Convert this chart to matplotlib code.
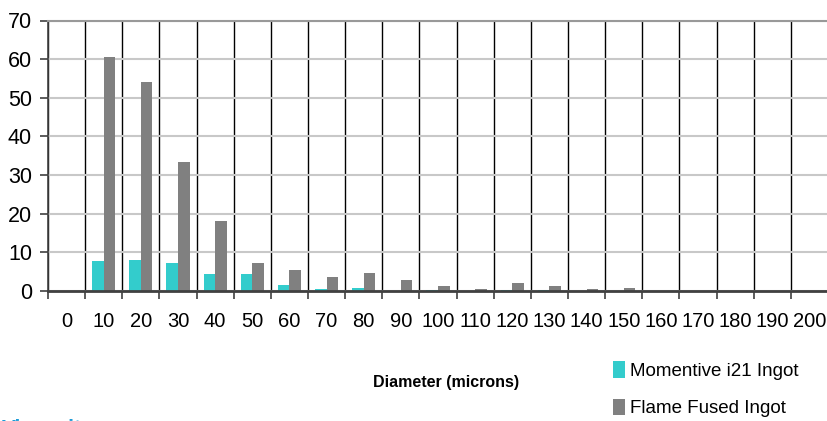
import matplotlib
matplotlib.use("Agg")
import matplotlib.pyplot as plt
import numpy as np

FONT = ["Liberation Sans", "DejaVu Sans"]
plt.rcParams["font.family"] = FONT

# Diameter bins (microns)
diameters = [0, 10, 20, 30, 40, 50, 60, 70, 80, 90, 100,
             110, 120, 130, 140, 150, 160, 170, 180, 190, 200]
# percent counts per bin
momentive = [0, 7.8, 8.0, 7.2, 4.4, 4.4, 1.5, 0.5, 0.8, 0, 0.3,
             0, 0.3, 0.3, 0, 0, 0, 0, 0, 0, 0]
flame_fused = [0, 60.6, 54.1, 33.4, 18.1, 7.2, 5.4, 3.6, 4.6, 2.8, 1.3,
               0.5, 2.1, 1.3, 0.5, 0.8, 0, 0, 0, 0, 0]

TEAL = "#33CCCC"
GREY = "#808080"

fig = plt.figure(figsize=(8.28, 4.21), dpi=100)
ax = fig.add_axes([48 / 828, 1 - 291 / 421, 780 / 828, 270.5 / 421])

x = np.arange(len(diameters))
w = 0.31
ax.bar(x - w / 2, momentive, w, color=TEAL, label="Momentive i21 Ingot", zorder=3)
ax.bar(x + w / 2, flame_fused, w, color=GREY, label="Flame Fused Ingot", zorder=3)

ax.set_xlim(-0.5, len(diameters) - 0.5)
ax.set_ylim(0, 70)
ax.set_yticks(range(0, 71, 10))
ax.set_xticks(x)
ax.set_xticklabels([str(d) for d in diameters])
ax.set_xticks(np.arange(len(diameters) + 1) - 0.5, minor=True)

ax.tick_params(axis="x", which="major", length=0, pad=15, labelsize=14.5)
ax.tick_params(axis="x", which="minor", length=5.5, width=1.2, color="#404040")
ax.tick_params(axis="y", length=5.5, width=1.2, color="#404040", pad=6, labelsize=15.5)

# gridlines: light horizontal, black vertical at bin edges
ax.grid(axis="y", which="major", color="#c8c8c8", linewidth=1.5, zorder=1)
ax.grid(axis="x", which="minor", color="black", linewidth=1.0, zorder=2)
ax.set_axisbelow(True)

ax.spines["right"].set_visible(False)
ax.spines["top"].set_color("#999999")
ax.spines["top"].set_linewidth(1.5)
ax.spines["left"].set_color("#404040")
ax.spines["left"].set_linewidth(1.2)
ax.spines["bottom"].set_color("#404040")
ax.spines["bottom"].set_linewidth(2.0)
ax.spines["bottom"].set_zorder(5)

fig.text(446 / 828, 1 - 382 / 421, "Diameter (microns)", ha="center", va="center",
         fontsize=11.5, fontweight="bold")

fig.legend(loc="upper left", bbox_to_anchor=(613 / 828, 1 - 361 / 421),
           frameon=False, fontsize=13.5, handlelength=0.65, handleheight=1.0,
           handletextpad=0.25, labelspacing=1.0, borderpad=0, borderaxespad=0)

# heading of the next section, only its top shows at the bottom edge
fig.text(0.002, 0.005, "Viscosity", ha="left", va="top", fontsize=15,
         fontweight="bold", color="#1E9CD7")

fig.savefig("out.png", dpi=100)
